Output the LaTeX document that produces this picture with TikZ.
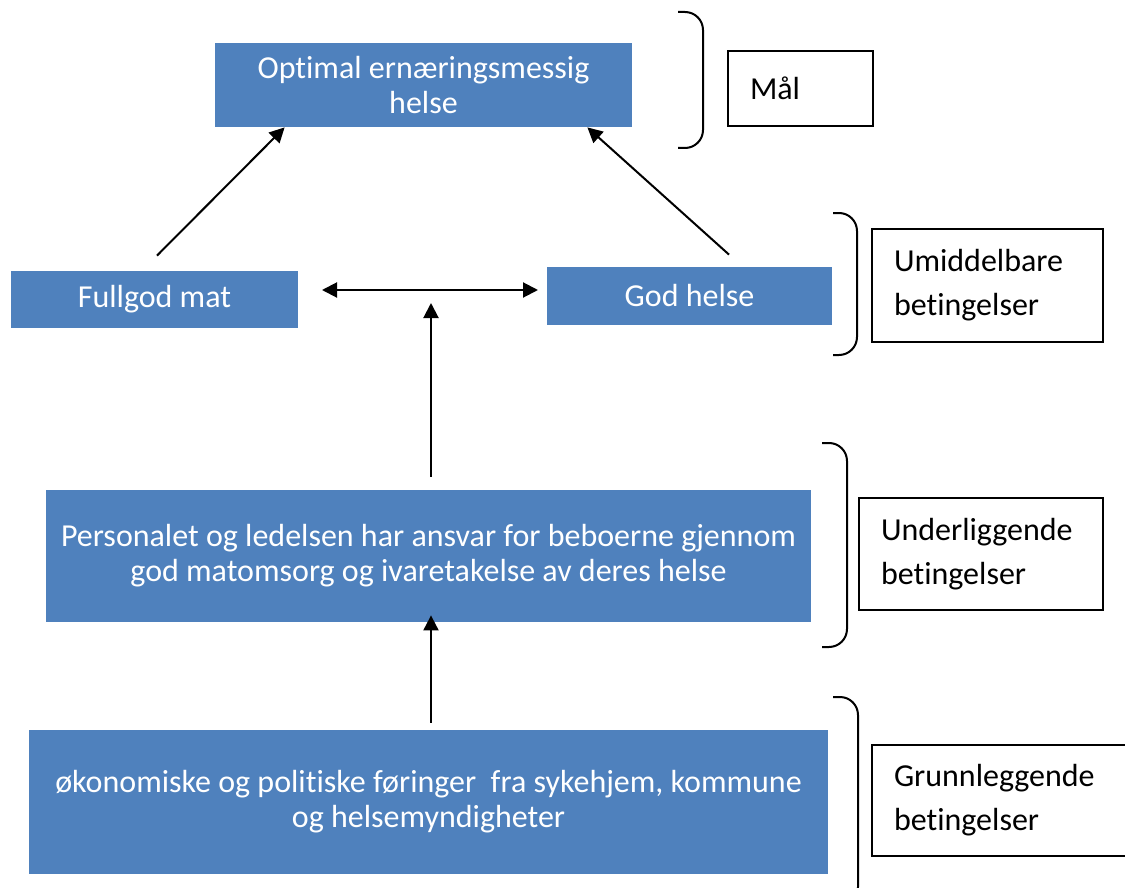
\documentclass[tikz,border=0pt]{standalone}
\usepackage{fontspec}
\setmainfont{Carlito}[Ligatures={NoCommon}]
\usetikzlibrary{arrows.meta}
\definecolor{boxblue}{HTML}{4F81BD}

\begin{document}
\begin{tikzpicture}[x=0.5pt,y=-0.5pt]
		\tikzstyle{level}=[fill=boxblue,text=white,align=center,inner sep=0pt,font=\fontsize{16}{17.5}\selectfont]
		\tikzstyle{tag}=[draw,line width=0.9pt,fill=white,align=left,inner xsep=11pt,font=\fontsize{16}{22}\selectfont]
		\tikzstyle{arr}=[line width=1pt,-{Triangle[length=7.5pt,width=7.5pt]}]
		\tikzstyle{dbl}=[line width=1pt,{Triangle[length=7.5pt,width=7.5pt]}-{Triangle[length=7.5pt,width=7.5pt]}]
		\tikzstyle{brk}=[line width=1pt,rounded corners=9pt]
		\clip (0,0) rectangle (1125,888);
		\fill[white] (0,0) rectangle (1125,888);
		% levels
		\node[level,minimum width=208.5pt,minimum height=42pt] (goal) at (423.5,85) {Optimal ernæringsmessig\\helse};
		\node[level,minimum width=143.5pt,minimum height=28.5pt] (food) at (154.5,299.5) {Fullgod mat};
		\node[level,minimum width=142.5pt,minimum height=29pt] (health) at (689.5,296) {God helse};
		\node[level,minimum width=382.5pt,minimum height=66pt] (staff) at (428.5,556) {Personalet og ledelsen har ansvar for beboerne gjennom\\god matomsorg og ivaretakelse av deres helse};
		\node[level,minimum width=399.5pt,minimum height=72pt] (policy) at (428.5,802) {økonomiske og politiske føringer~ fra sykehjem, kommune\\og helsemyndigheter};
		% tags
		\node[tag,minimum width=72.5pt,minimum height=37.5pt,text width=50.5pt] (goaltag) at (800.5,88.5) {Mål};
		\node[tag,minimum width=115.5pt,minimum height=56.5pt,text width=93.5pt] (neartag) at (987.5,285.5) {Umiddelbare\\betingelser};
		\node[tag,minimum width=122pt,minimum height=56pt,text width=100pt] (undertag) at (981,554) {Underliggende\\betingelser};
		\node[tag,minimum width=131.5pt,minimum height=55.5pt,text width=109.5pt] (basetag) at (1003.5,800.5) {Grunnleggende\\betingelser};
		% brackets
		\draw[brk] (678,12) -- (703,12) -- (703,148) -- (678,148);
		\draw[brk] (833,213) -- (857,213) -- (857,355) -- (833,355);
		\draw[brk] (822,443) -- (847,443) -- (847,647) -- (822,647);
		\draw[brk] (833,697) -- (858,697) -- (858,905) -- (833,905);
		% arrows
		\coordinate (linkL) at (322,290);
		\coordinate (linkR) at (538,290);
		\coordinate (linkM) at (431,303);
		\draw[arr] ([shift={(1.25pt,7.5pt)}]food.north) -- ([xshift=35pt]goal.south west);
		\draw[arr] ([shift={(19.75pt,6pt)}]health.north) -- ([xshift=-22.5pt]goal.south east);
		\draw[dbl] (linkL) -- (linkR);
		\draw[arr] ([shift={(1.25pt,6.5pt)}]staff.north) -- (linkM);
		\draw[arr] ([shift={(1.25pt,3.5pt)}]policy.north) -- ([shift={(1.25pt,3.5pt)}]staff.south);
\end{tikzpicture}
\end{document}
